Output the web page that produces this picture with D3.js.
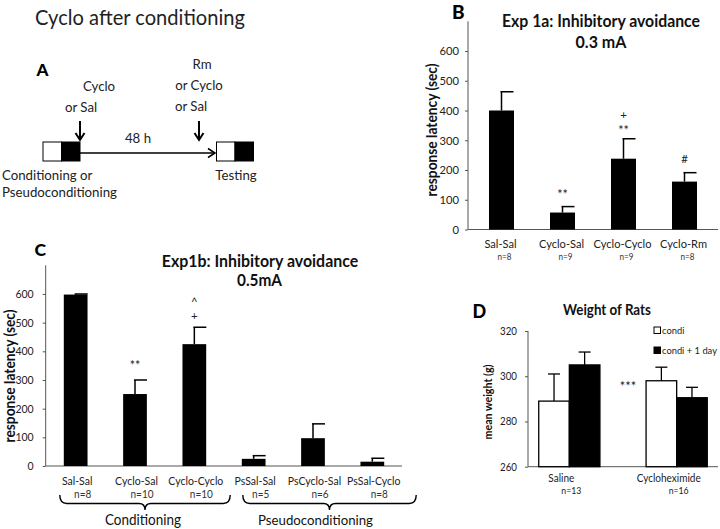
<!DOCTYPE html>
<html><head><meta charset="utf-8">
<script src="https://cdn.jsdelivr.net/npm/d3@7"></script>
<style>
body{margin:0;background:#fff;}
svg{display:block;font-family:Lato, "Open Sans", sans-serif;}
</style></head>
<body>
<svg id="fig" width="720" height="529"></svg>
<script>
// ---------- data ----------
const bCategories = ["Sal-Sal","Cyclo-Sal","Cyclo-Cyclo","Cyclo-Rm"];
const bN = ["n=8","n=9","n=9","n=8"];
const bValues = [400,57,238,161];
const bErrors = [63,20,67,30];
// significance marks: [symbol, level in chart units]
const bMarks = [[],[["**",126]],[["+",385],["**",341]],[["#",237]]];
const bTicks = [0,100,200,300,400,500,600];

const cCategories = ["Sal-Sal","Cyclo-Sal","Cyclo-Cyclo","PsSal-Sal","PsCyclo-Sal","PsSal-Cyclo"];
const cN = ["n=8","n=10","n=10","n=5","n=6","n=8"];
const cValues = [598,251,425,25,97,15];
const cErrors = [2,49,59,11,50,12];
const cMarks = [[],[["**",359]],[["^",580],["+",524]],[],[],[]];
const cTicks = [0,100,200,300,400,500,600];
const cGroups = [{label:"Conditioning", from:0, to:2},{label:"Pseudoconditioning", from:3, to:5}];

const dGroups = ["Saline","Cycloheximide"];
const dN = ["n=13","n=16"];
const dSeries = ["condi","condi + 1 day"];
const dCondi = [289,298];
const dCondi1 = [305,290.5];
const dCondiErr = [12,6];
const dCondi1Err = [5.7,4.6];
const dTicks = [260,280,300,320];

const svg = d3.select("#fig");
const F = "Lato, 'Open Sans', sans-serif";
const glyphMid = {"**":0.52,"***":0.52,"+":0.33,"#":0.36,"^":0.55};
const K = 1.08; // taller-than-wide look of the original typeface

// give a set of texts one common size whose sample width equals w, then make glyphs a bit taller
function fitAll(sels, sampleIdx, w){
  const s = sels[sampleIdx];
  const fs = parseFloat(s.attr("font-size"));
  const L = s.node().getComputedTextLength();
  const nfs = fs * w / L;
  sels.forEach(t => {
    t.attr("font-size", nfs.toFixed(2));
    const lw = t.node().getComputedTextLength();
    t.attr("font-size", (nfs*K).toFixed(2)).attr("textLength", lw.toFixed(2)).attr("lengthAdjust","spacingAndGlyphs");
  });
}
function fit(sel, w){ fitAll([sel], 0, w); return sel; }
const panelLetter = (x,y,fs,t) => svg.append("text").attr("x",x).attr("y",y).attr("font-size",fs).attr("font-weight","900").attr("fill","#000").text(t);

// ---------- Panel A (schematic) ----------
const A = svg.append("g");
fit(A.append("text").attr("x",35).attr("y",25).attr("font-size",20).attr("fill","#222").text("Cyclo after conditioning"), 210);
panelLetter(36.5,75.5,17,"A");
const aTxt = (x,y,t,anchor="middle") => A.append("text").attr("x",x).attr("y",y).attr("font-size",14.5).attr("fill","#222").attr("text-anchor",anchor).text(t);
const aLabels = [
  aTxt(99,91,"Cyclo"), aTxt(81,112,"or Sal"),
  aTxt(202,69,"Rm"), aTxt(199,90,"or Cyclo"), aTxt(191,111,"or Sal"),
  aTxt(138,143,"48 h"),
  aTxt(2,180,"Conditioning or","start"), aTxt(2,197,"Pseudoconditioning","start"),
  aTxt(236,180,"Testing")];
fitAll(aLabels, 7, 115);
function box(x){
  A.append("rect").attr("x",x).attr("y",142).attr("width",18.5).attr("height",19).attr("fill","#fff").attr("stroke","#000");
  A.append("rect").attr("x",x+18.5).attr("y",142).attr("width",18.5).attr("height",19).attr("fill","#000").attr("stroke","#000");
}
box(43); box(216.5);
A.append("line").attr("x1",80).attr("y1",153).attr("x2",215).attr("y2",153).attr("stroke","#000").attr("stroke-width",1.5);
A.append("path").attr("d","M208,148.5L215,153L208,157.5").attr("fill","none").attr("stroke","#000").attr("stroke-width",1.5);
[80,199].forEach(x=>{
  A.append("line").attr("x1",x).attr("y1",121).attr("x2",x).attr("y2",140).attr("stroke","#000").attr("stroke-width",2);
  A.append("path").attr("d",`M${x-4.5},133L${x},140L${x+4.5},133`).attr("fill","none").attr("stroke","#000").attr("stroke-width",2);
});

// ---------- helper for bar panels ----------
function barPanel(opts){
  const g = svg.append("g");
  const y = d3.scaleLinear().domain([0,700]).range([opts.y0, opts.y0 - opts.pxPer100*7]);
  const x = d3.scaleBand().domain(opts.cats).range(opts.xr).paddingInner(opts.pad).paddingOuter(opts.pad/2);
  const ax = g.append("g").attr("transform",`translate(${opts.axisX},0)`)
    .call(d3.axisLeft(y).tickValues(opts.ticks).tickSize(3).tickPadding(opts.tickPad));
  ax.select(".domain").attr("stroke","#555").attr("d",`M0,${y(0)}V${y(700)}`);
  ax.selectAll(".tick line").attr("stroke","#555");
  const tickTexts = [];
  ax.selectAll(".tick text").attr("font-family",F).attr("font-size",12).attr("fill","#222").each(function(){tickTexts.push(d3.select(this));});
  fitAll(tickTexts, tickTexts.length-1, opts.tickW);
  g.append("line").attr("x1",opts.axisX).attr("x2",opts.axisEnd).attr("y1",y(0)).attr("y2",y(0)).attr("stroke","#555");
  g.selectAll("rect.bar").data(opts.vals).join("rect").attr("class","bar")
    .attr("x",(d,i)=>x(opts.cats[i])).attr("width",x.bandwidth())
    .attr("y",d=>y(d)).attr("height",d=>y(0)-y(d)).attr("fill","#000");
  const catTexts = [], nTexts = [];
  opts.vals.forEach((v,i)=>{
    const cx = x(opts.cats[i]) + x.bandwidth()/2;
    const top = y(v+opts.errs[i]);
    g.append("line").attr("x1",cx).attr("x2",cx).attr("y1",y(v)).attr("y2",top).attr("stroke","#000").attr("stroke-width",1.5);
    g.append("line").attr("x1",cx-1).attr("x2",cx+12).attr("y1",top).attr("y2",top).attr("stroke","#000").attr("stroke-width",1.5);
    opts.marks[i].forEach(([m,lvl])=>{
      const fs = m==="**" ? 12.5 : 11.5;
      g.append("text").attr("x",cx).attr("y",y(lvl) + glyphMid[m]*fs)
        .attr("text-anchor","middle").attr("font-size",fs).attr("fill","#222").text(m);
    });
    catTexts.push(g.append("text").attr("x",cx+opts.catDx).attr("y",opts.catY).attr("text-anchor","middle").attr("font-size",11).attr("fill","#222").text(opts.cats[i]));
    nTexts.push(g.append("text").attr("x",cx+opts.nDx).attr("y",opts.nY).attr("text-anchor","middle").attr("font-size",10).attr("fill","#333").text(opts.n[i]));
  });
  fitAll(catTexts, 2, opts.catW);
  fitAll(nTexts, opts.nIdx, opts.nW);
  const yl = g.append("text").attr("transform",`translate(${opts.ylabX},${opts.ylabY}) rotate(-90)`)
    .attr("text-anchor","middle").attr("font-size",15).attr("font-weight","bold").attr("fill","#111").text("response latency (sec)");
  fit(yl, 133);
  return {g,x,y};
}

// ---------- Panel B ----------
const B = barPanel({cats:bCategories, n:bN, vals:bValues, errs:bErrors, marks:bMarks, ticks:bTicks,
  y0:229.5, pxPer100:29.75, xr:[471,715], pad:0.59, axisX:468, axisEnd:718,
  tickPad:6, tickW:19.5, catDx:-1, catY:248, catW:58, nDx:3, nY:260, nIdx:0, nW:14,
  ylabX:436.5, ylabY:130});
panelLetter(452,19,19,"B");
fit(svg.append("text").attr("x",601).attr("y",27).attr("text-anchor","middle").attr("font-size",15).attr("font-weight","bold").attr("fill","#111").text("Exp 1a: Inhibitory avoidance"), 198);
fit(svg.append("text").attr("x",601).attr("y",48).attr("text-anchor","middle").attr("font-size",15).attr("font-weight","bold").attr("fill","#111").text("0.3 mA"), 51);

// ---------- Panel C ----------
const C = barPanel({cats:cCategories, n:cN, vals:cValues, errs:cErrors, marks:cMarks, ticks:cTicks,
  y0:466, pxPer100:28.67, xr:[46,402], pad:0.6, axisX:45.7, axisEnd:402,
  tickPad:9, tickW:18.3, catDx:1.5, catY:485, catW:55, nDx:7, nY:498, nIdx:1, nW:23,
  ylabX:14.5, ylabY:376});
panelLetter(34.5,255.5,17.5,"C");
fit(svg.append("text").attr("x",260).attr("y",267).attr("text-anchor","middle").attr("font-size",15).attr("font-weight","bold").attr("fill","#111").text("Exp1b: Inhibitory avoidance"), 196.5);
fit(svg.append("text").attr("x",259.5).attr("y",286).attr("text-anchor","middle").attr("font-size",15).attr("font-weight","bold").attr("fill","#111").text("0.5mA"), 45);
const braceEnds = [[-4,24],[1,32]];
const labelShift = [-2,-14];
const groupW = [76,115];
cGroups.forEach((gr,gi)=>{
  const x1 = C.x(cCategories[gr.from]) + braceEnds[gi][0];
  const x2 = C.x(cCategories[gr.to]) + C.x.bandwidth() + braceEnds[gi][1];
  const mid = (x1+x2)/2;
  C.g.append("path").attr("d",`M${x1},495Q${x1},503.5 ${x1+7},503.5L${mid-6},503.5Q${mid},503.5 ${mid},510Q${mid},503.5 ${mid+6},503.5L${x2-7},503.5Q${x2},503.5 ${x2},495`)
    .attr("fill","none").attr("stroke","#000").attr("stroke-width",1.4);
  fit(C.g.append("text").attr("x",mid+labelShift[gi]).attr("y",525).attr("text-anchor","middle").attr("font-size",14).attr("fill","#111").text(gr.label), groupW[gi]);
});

// ---------- Panel D ----------
const D = svg.append("g");
const dy = d3.scaleLinear().domain([260,320]).range([466.7,331]);
const dx = d3.scaleBand().domain(dGroups).range([528,718]).paddingInner(0.43).paddingOuter(0.1);
const dsub = d3.scaleBand().domain(dSeries).range([0,dx.bandwidth()]);
const dax = D.append("g").attr("transform","translate(528,0)").call(d3.axisLeft(dy).tickValues(dTicks).tickSize(3).tickPadding(8));
dax.select(".domain").attr("stroke","#555").attr("d",`M0,${dy(260)}V${dy(320)}`);
dax.selectAll(".tick line").attr("stroke","#555");
const dTickTexts = [];
dax.selectAll(".tick text").attr("font-family",F).attr("font-size",10.5).attr("fill","#222").each(function(){dTickTexts.push(d3.select(this));});
fitAll(dTickTexts, 3, 17);
D.append("line").attr("x1",528).attr("x2",718).attr("y1",dy(260)).attr("y2",dy(260)).attr("stroke","#555");
const dRows = dGroups.map((gname,i)=>[
  {g:gname, s:dSeries[0], v:dCondi[i], e:dCondiErr[i]},
  {g:gname, s:dSeries[1], v:dCondi1[i], e:dCondi1Err[i]}]).flat();
dRows.forEach(r=>{
  const x0 = dx(r.g)+dsub(r.s), w = dsub.bandwidth();
  const top = dy(r.v+r.e), cx = x0+w/2;
  D.append("line").attr("x1",cx).attr("x2",cx).attr("y1",dy(r.v)).attr("y2",top).attr("stroke","#000").attr("stroke-width",1.3);
  D.append("line").attr("x1",cx-6).attr("x2",cx+6).attr("y1",top).attr("y2",top).attr("stroke","#000").attr("stroke-width",1.3);
  D.append("rect").attr("x",x0).attr("y",dy(r.v)).attr("width",w).attr("height",dy(260)-dy(r.v))
    .attr("fill",r.s===dSeries[0]?"#fff":"#000").attr("stroke","#000").attr("stroke-width",1.3);
});
const dCat = [], dNt = [];
dGroups.forEach((gname,i)=>{
  const cx = dx(gname)+dx.bandwidth()/2;
  dCat.push(D.append("text").attr("x",cx-8).attr("y",482).attr("text-anchor","middle").attr("font-size",11).attr("fill","#222").text(gname));
  dNt.push(D.append("text").attr("x",cx+2).attr("y",494).attr("text-anchor","middle").attr("font-size",11).attr("fill","#222").text(dN[i]));
});
fitAll(dCat, 1, 64);
fitAll(dNt, 1, 20);
D.append("text").attr("x",628).attr("y",384 + glyphMid["***"]*13).attr("text-anchor","middle").attr("font-size",13).attr("fill","#222").text("***");
panelLetter(472.5,318,18,"D");
fit(D.append("text").attr("x",607).attr("y",315).attr("text-anchor","middle").attr("font-size",13.5).attr("font-weight","bold").attr("fill","#111").text("Weight of Rats"), 88);
fit(D.append("text").attr("transform","translate(492,402) rotate(-90)").attr("text-anchor","middle").attr("font-size",10).attr("font-weight","bold").attr("fill","#111").text("mean weight (g)"), 75);
const legT = [];
dSeries.forEach((s,i)=>{
  const ly = 327 + i*20;
  D.append("rect").attr("x",654).attr("y",ly).attr("width",6.5).attr("height",6.5).attr("fill",i===0?"#fff":"#000").attr("stroke","#000").attr("stroke-width",1);
  legT.push(D.append("text").attr("x",662).attr("y",ly+7).attr("font-size",9.5).attr("fill","#222").text(s));
});
fitAll(legT, 1, 55);
</script>
</body></html>
